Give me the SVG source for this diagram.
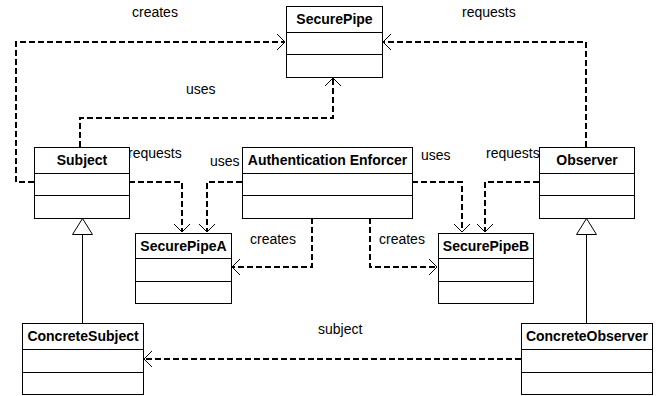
<svg xmlns="http://www.w3.org/2000/svg" width="659" height="396" viewBox="0 0 659 396">
<defs>
<style>
.box{fill:#fff;stroke:#000;stroke-width:1}
.sep{stroke:#000;stroke-width:1}
.title{font-family:"Liberation Sans",Arial,sans-serif;font-size:14px;font-weight:bold;text-anchor:middle;fill:#000}
.lbl{font-family:"Liberation Sans",Arial,sans-serif;font-size:14px;fill:#000}
.dep{fill:none;stroke:#000;stroke-width:2;stroke-dasharray:6 3}
.arr{fill:none;stroke:#000;stroke-width:1}
.gen{fill:none;stroke:#000;stroke-width:1}
.tri{fill:#fff;stroke:#000;stroke-width:1}
</style>
</defs>
<rect width="659" height="396" fill="#fff"/>
<g id="connectors">
<polyline class="dep" points="34,182 16,182 16,42 285,42"/>
<polyline class="arr" points="277,34 285,42 277,50"/>
<polyline class="dep" points="80,147 80,118 333,118 333,78"/>
<polyline class="arr" points="325,86 333,78 341,86"/>
<polyline class="dep" points="586,147 586,42 383,42"/>
<polyline class="arr" points="391,34 383,42 391,50"/>
<polyline class="dep" points="129,182 182,182 182,232"/>
<polyline class="arr" points="174,224 182,232 190,224"/>
<polyline class="dep" points="242,182 207,182 207,232"/>
<polyline class="arr" points="199,224 207,232 215,224"/>
<polyline class="dep" points="312,218 312,267 232,267"/>
<polyline class="arr" points="240,259 232,267 240,275"/>
<polyline class="dep" points="412,182 462,182 462,232"/>
<polyline class="arr" points="454,224 462,232 470,224"/>
<polyline class="dep" points="539,182 485,182 485,232"/>
<polyline class="arr" points="477,224 485,232 493,224"/>
<polyline class="dep" points="370,218 370,267 437,267"/>
<polyline class="arr" points="429,259 437,267 429,275"/>
<polyline class="dep" points="521,359 144,359"/>
<polyline class="arr" points="152,351 144,359 152,367"/>
<line class="gen" x1="82.5" y1="323" x2="82.5" y2="234"/>
<polygon class="tri" points="82.5,218.5 72.5,234.5 92.5,234.5"/>
<line class="gen" x1="586.5" y1="323" x2="586.5" y2="234"/>
<polygon class="tri" points="586.5,218.5 576.5,234.5 596.5,234.5"/>
</g>
<g id="labels">
<text class="lbl" x="132" y="17">creates</text>
<text class="lbl" x="186" y="94">uses</text>
<text class="lbl" x="462" y="17">requests</text>
<text class="lbl" x="128" y="158">requests</text>
<text class="lbl" x="210" y="166">uses</text>
<text class="lbl" x="421" y="160">uses</text>
<text class="lbl" x="486" y="158">requests</text>
<text class="lbl" x="250" y="244">creates</text>
<text class="lbl" x="379" y="244">creates</text>
<text class="lbl" x="318" y="334">subject</text>
</g>
<g id="SecurePipe">
<rect class="box" x="286.5" y="6.5" width="96" height="71"/>
<line class="sep" x1="286.5" y1="32.5" x2="382.5" y2="32.5"/>
<line class="sep" x1="286.5" y1="54.5" x2="382.5" y2="54.5"/>
<text class="title" x="334.5" y="24">SecurePipe</text>
</g>
<g id="Subject">
<rect class="box" x="34.5" y="147.5" width="95" height="71"/>
<line class="sep" x1="34.5" y1="173.5" x2="129.5" y2="173.5"/>
<line class="sep" x1="34.5" y1="195.5" x2="129.5" y2="195.5"/>
<text class="title" x="82" y="165">Subject</text>
</g>
<g id="AuthenticationEnforcer">
<rect class="box" x="242.5" y="147.5" width="170" height="71"/>
<line class="sep" x1="242.5" y1="173.5" x2="412.5" y2="173.5"/>
<line class="sep" x1="242.5" y1="195.5" x2="412.5" y2="195.5"/>
<text class="title" x="327.5" y="165">Authentication Enforcer</text>
</g>
<g id="Observer">
<rect class="box" x="539.5" y="147.5" width="95" height="71"/>
<line class="sep" x1="539.5" y1="173.5" x2="634.5" y2="173.5"/>
<line class="sep" x1="539.5" y1="195.5" x2="634.5" y2="195.5"/>
<text class="title" x="587" y="165">Observer</text>
</g>
<g id="SecurePipeA">
<rect class="box" x="135.5" y="233.5" width="96" height="70"/>
<line class="sep" x1="135.5" y1="258.5" x2="231.5" y2="258.5"/>
<line class="sep" x1="135.5" y1="281.5" x2="231.5" y2="281.5"/>
<text class="title" x="183.5" y="251">SecurePipeA</text>
</g>
<g id="SecurePipeB">
<rect class="box" x="438.5" y="233.5" width="95" height="70"/>
<line class="sep" x1="438.5" y1="258.5" x2="533.5" y2="258.5"/>
<line class="sep" x1="438.5" y1="281.5" x2="533.5" y2="281.5"/>
<text class="title" x="486" y="251">SecurePipeB</text>
</g>
<g id="ConcreteSubject">
<rect class="box" x="22.5" y="323.5" width="121" height="71"/>
<line class="sep" x1="22.5" y1="349.5" x2="143.5" y2="349.5"/>
<line class="sep" x1="22.5" y1="372.5" x2="143.5" y2="372.5"/>
<text class="title" x="83" y="341">ConcreteSubject</text>
</g>
<g id="ConcreteObserver">
<rect class="box" x="521.5" y="323.5" width="131" height="71"/>
<line class="sep" x1="521.5" y1="349.5" x2="652.5" y2="349.5"/>
<line class="sep" x1="521.5" y1="372.5" x2="652.5" y2="372.5"/>
<text class="title" x="587" y="341">ConcreteObserver</text>
</g>
</svg>
